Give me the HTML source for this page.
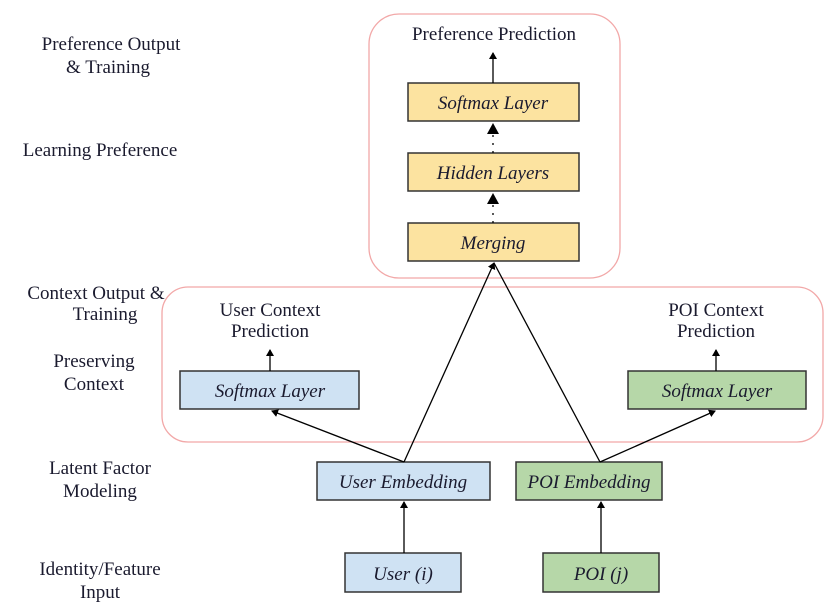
<!DOCTYPE html>
<html><head><style>
body{margin:0;background:#fff;width:830px;height:611px;overflow:hidden;font-family:"Liberation Serif",serif;}
</style></head><body>
<svg width="830" height="611" xmlns="http://www.w3.org/2000/svg" font-family="Liberation Serif, serif" font-size="19" fill="#1a1a2e">
<defs><marker id="a" markerWidth="8" markerHeight="8" refX="6" refY="4" orient="auto" markerUnits="userSpaceOnUse"><path d="M0,0 L7,4 L0,8 z" fill="#000"/></marker>
<marker id="b" markerWidth="12" markerHeight="12" refX="10" refY="6" orient="auto" markerUnits="userSpaceOnUse"><path d="M0,0 L11,6 L0,12 z" fill="#000"/></marker></defs>
<rect x="369" y="14" width="251" height="264" rx="30" fill="none" stroke="#f2a8a8" stroke-width="1.3"/>
<rect x="162" y="287" width="661" height="155" rx="26" fill="none" stroke="#f2a8a8" stroke-width="1.3"/>
<g stroke="#333" stroke-width="1.5">
<rect x="408" y="83" width="171" height="38" fill="#fce3a0"/>
<rect x="408" y="153" width="171" height="38" fill="#fce3a0"/>
<rect x="408" y="223" width="171" height="38" fill="#fce3a0"/>
<rect x="180" y="371" width="179" height="38" fill="#cfe2f3"/>
<rect x="628" y="371" width="178" height="38" fill="#b6d7a8"/>
<rect x="317" y="462" width="173" height="38" fill="#cfe2f3"/>
<rect x="516" y="462" width="146" height="38" fill="#b6d7a8"/>
<rect x="345" y="553" width="116" height="39" fill="#cfe2f3"/>
<rect x="543" y="553" width="116" height="39" fill="#b6d7a8"/>
</g>
<g stroke="#000" stroke-width="1.3" fill="none">
<line x1="493" y1="83" x2="493" y2="53" marker-end="url(#a)"/>
<line x1="493" y1="153" x2="493" y2="124" stroke-dasharray="2,6" marker-end="url(#b)"/>
<line x1="493" y1="223" x2="493" y2="194" stroke-dasharray="2,6" marker-end="url(#b)"/>
<line x1="404" y1="462" x2="494" y2="263" marker-end="url(#a)"/>
<line x1="600" y1="462" x2="494" y2="263"/>
<line x1="404" y1="462" x2="272" y2="411" marker-end="url(#a)"/>
<line x1="600" y1="462" x2="715" y2="411" marker-end="url(#a)"/>
<line x1="270" y1="371" x2="270" y2="350" marker-end="url(#a)"/>
<line x1="716" y1="371" x2="716" y2="350" marker-end="url(#a)"/>
<line x1="404" y1="553" x2="404" y2="502" marker-end="url(#a)"/>
<line x1="601" y1="553" x2="601" y2="502" marker-end="url(#a)"/>
</g>
<g text-anchor="middle">
<text x="494" y="40">Preference Prediction</text>
<text x="270" y="316">User Context</text><text x="270" y="337">Prediction</text>
<text x="716" y="316">POI Context</text><text x="716" y="337">Prediction</text>
<g font-style="italic">
<text x="493" y="109">Softmax Layer</text>
<text x="493" y="179">Hidden Layers</text>
<text x="493" y="249">Merging</text>
<text x="270" y="397">Softmax Layer</text>
<text x="717" y="397">Softmax Layer</text>
<text x="403" y="488">User Embedding</text>
<text x="589" y="488">POI Embedding</text>
<text x="403" y="580">User (i)</text>
<text x="601" y="580">POI (j)</text>
</g>
<text x="111" y="50">Preference Output</text><text x="108" y="73">&amp; Training</text>
<text x="100" y="156">Learning Preference</text>
<text x="96" y="299">Context Output &amp;</text><text x="105" y="320">Training</text>
<text x="94" y="367">Preserving</text><text x="94" y="390">Context</text>
<text x="100" y="474">Latent Factor</text><text x="100" y="497">Modeling</text>
<text x="100" y="575">Identity/Feature</text><text x="100" y="598">Input</text>
</g>
</svg>
</body></html>
